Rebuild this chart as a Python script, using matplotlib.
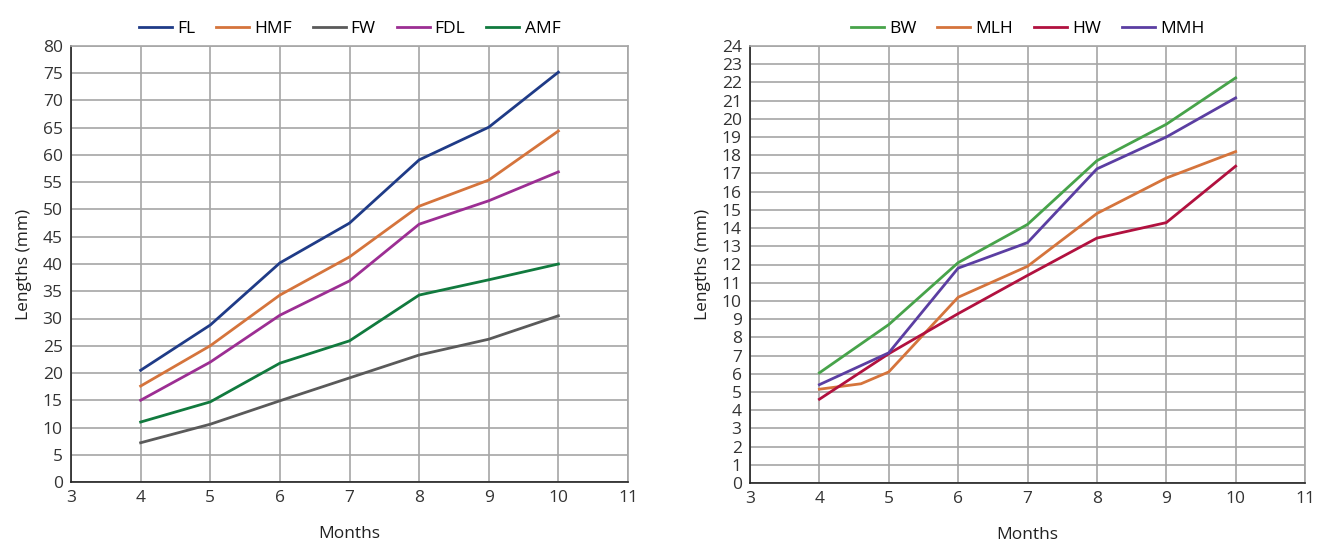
import matplotlib
matplotlib.use("Agg")
import matplotlib.pyplot as plt

plt.rcParams['font.family'] = ['Open Sans', 'DejaVu Sans']

months = [4, 5, 6, 7, 8, 9, 10]

# left panel
fl = [20.5, 28.8, 40.2, 47.5, 59.1, 65.1, 75.2]
hmf = [17.6, 25.0, 34.3, 41.3, 50.6, 55.4, 64.4]
fw = [7.2, 10.6, 14.9, 19.1, 23.3, 26.2, 30.5]
fdl = [15.0, 22.0, 30.6, 36.9, 47.3, 51.6, 56.9]
amf = [11.0, 14.7, 21.8, 25.9, 34.3, 37.1, 40.0]

# right panel
bw = [6.05, 8.7, 12.1, 14.2, 17.7, 19.7, 22.25]
mlh_months = [4, 4.6, 5, 6, 7, 8, 9, 10]
mlh = [5.15, 5.45, 6.1, 10.2, 11.9, 14.8, 16.75, 18.2]
hw = [4.6, 7.1, 9.3, 11.4, 13.45, 14.3, 17.4]
mmh = [5.4, 7.15, 11.8, 13.2, 17.25, 19.0, 21.15]

fig = plt.figure(figsize=(13.23, 5.47), dpi=100)
W, H = 1323, 547
ax1 = fig.add_axes([71 / W, 1 - 482 / H, (628 - 71) / W, (482 - 46) / H])
ax2 = fig.add_axes([750 / W, 1 - 483 / H, (1305 - 750) / W, (483 - 46) / H])

left_series = [("FL", months, fl, "#1f3b87"), ("HMF", months, hmf, "#d5743c"),
               ("FW", months, fw, "#5a5a5a"), ("FDL", months, fdl, "#9c2e93"),
               ("AMF", months, amf, "#117a3e")]
right_series = [("BW", months, bw, "#47a34a"), ("MLH", mlh_months, mlh, "#d5743c"),
                ("HW", months, hw, "#b1113f"), ("MMH", months, mmh, "#5b3ea2")]

for ax, series, ymax, ystep in [(ax1, left_series, 80, 5), (ax2, right_series, 24, 1)]:
    for name, xs, ys, c in series:
        ax.plot(xs, ys, color=c, lw=2, label=name)
    ax.set_xlim(3, 11)
    ax.set_ylim(0, ymax)
    ax.set_xticks(range(3, 12))
    ax.set_yticks(range(0, ymax + 1, ystep))
    ax.grid(True, color="#a6a6a6", lw=1.2)
    ax.set_axisbelow(True)
    for s in ["top", "right"]:
        ax.spines[s].set_color("#a6a6a6")
        ax.spines[s].set_linewidth(1.2)
    for s in ["left", "bottom"]:
        ax.spines[s].set_color("#222222")
        ax.spines[s].set_linewidth(1.2)
    ax.tick_params(length=0, labelsize=12.5, colors="#333333", pad=6)
    ax.set_xlabel("Months", fontsize=12.5, color="#222222", labelpad=14)
    ax.set_ylabel("Lengths (mm)", fontsize=12.5, color="#222222", labelpad=8)
    ax.legend(loc="lower center", bbox_to_anchor=(0.5, 1.0), ncol=len(series),
              frameon=False, fontsize=12.5, handlelength=1.9, handletextpad=0.3,
              columnspacing=1.2, borderaxespad=0.1)

fig.savefig("out.png", dpi=100)
